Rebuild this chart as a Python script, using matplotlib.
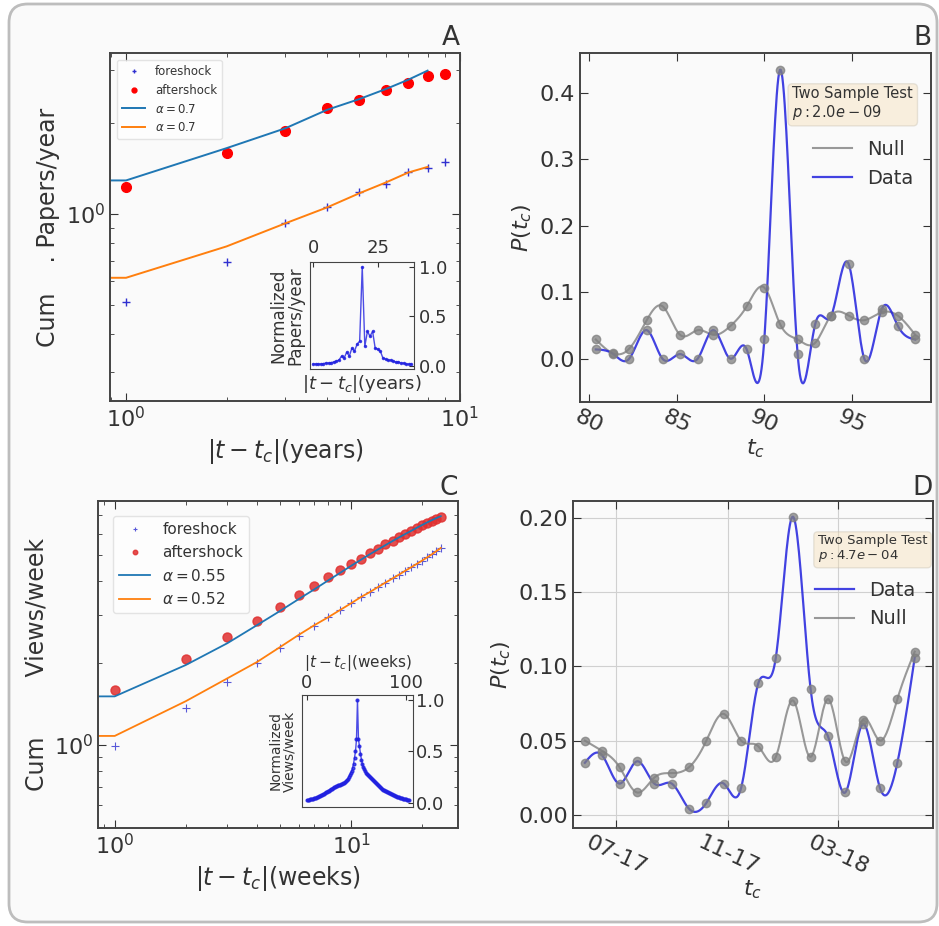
import numpy as np
import matplotlib
matplotlib.use('Agg')
import matplotlib.pyplot as plt
import matplotlib.dates as mdates
from matplotlib.patches import FancyBboxPatch

# ---- panel A: papers per year ----
years = [1, 2, 3, 4, 5, 6, 7, 8, 9]
papers_after = [1.23, 1.59, 1.88, 2.24, 2.38, 2.57, 2.72, 2.86, 2.91]
papers_fore = [0.51, 0.69, 0.93, 1.05, 1.18, 1.26, 1.38, 1.42, 1.49]
fit_years = [0.5, 1, 2, 3, 4, 5, 6, 7, 8]
papers_fit_after = [1.29, 1.29, 1.65, 1.92, 2.21, 2.40, 2.59, 2.78, 2.98]
papers_fit_fore = [0.614, 0.614, 0.78, 0.93, 1.05, 1.17, 1.27, 1.37, 1.43]
inset_years = list(range(39))
inset_papers = [0.02, 0.02, 0.02, 0.02, 0.025, 0.03, 0.03, 0.035, 0.04, 0.05,
                0.06, 0.10, 0.08, 0.14, 0.10, 0.18, 0.15, 0.22, 0.25, 1.0,
                0.20, 0.35, 0.30, 0.35, 0.18, 0.17, 0.15, 0.08, 0.07, 0.06,
                0.06, 0.05, 0.04, 0.04, 0.03, 0.03, 0.02, 0.02, 0.02]

# ---- panel B: change point distribution (years) ----
tc_years = [80.4, 81.4, 82.3, 83.3, 84.2, 85.2, 86.2, 87.1, 88.1, 89.0,
            90.0, 90.9, 91.9, 92.9, 93.8, 94.8, 95.7, 96.7, 97.6, 98.6]
p_null_b = [0.029, 0.008, 0.015, 0.058, 0.079, 0.036, 0.043, 0.036, 0.050, 0.079,
            0.107, 0.052, 0.029, 0.024, 0.065, 0.065, 0.058, 0.070, 0.065, 0.036]
p_data_b = [0.014, 0.007, 0.0, 0.043, 0.0, 0.007, 0.0, 0.043, 0.0, 0.014,
            0.029, 0.435, 0.007, 0.052, 0.064, 0.143, 0.0, 0.075, 0.050, 0.029]

# ---- panel C: views per week ----
weeks = list(range(1, 25))
views_after = [1.59, 2.07, 2.49, 2.86, 3.22, 3.56, 3.85, 4.15, 4.40, 4.65, 4.85, 5.08,
               5.28, 5.48, 5.65, 5.82, 5.97, 6.12, 6.28, 6.44, 6.55, 6.67, 6.78, 6.89]
views_fore = [0.99, 1.37, 1.71, 2.00, 2.27, 2.52, 2.74, 2.95, 3.13, 3.32, 3.50, 3.65,
              3.81, 3.96, 4.10, 4.24, 4.38, 4.51, 4.64, 4.77, 4.90, 5.03, 5.17, 5.31]
fit_weeks = [0.5] + weeks
views_fit_after = [1.51, 1.51, 1.97, 2.37, 2.76, 3.11, 3.44, 3.74, 4.03, 4.30, 4.56, 4.80, 5.03,
                   5.24, 5.44, 5.63, 5.81, 5.98, 6.14, 6.30, 6.45, 6.59, 6.72, 6.84, 6.95]
views_fit_fore = [1.08, 1.08, 1.45, 1.76, 2.02, 2.29, 2.54, 2.76, 2.95, 3.14, 3.32, 3.50, 3.65,
                  3.81, 3.96, 4.10, 4.24, 4.38, 4.51, 4.64, 4.77, 4.90, 5.03, 5.17, 5.31]
inset_weeks = list(range(104))
inset_views = [0.03, 0.03, 0.03, 0.035, 0.035, 0.04, 0.04, 0.045, 0.05, 0.05,
               0.055, 0.06, 0.065, 0.07, 0.075, 0.08, 0.085, 0.09, 0.10, 0.105,
               0.11, 0.115, 0.12, 0.13, 0.135, 0.14, 0.145, 0.15, 0.155, 0.16,
               0.165, 0.17, 0.17, 0.175, 0.18, 0.185, 0.19, 0.195, 0.20, 0.21,
               0.22, 0.23, 0.25, 0.27, 0.29, 0.31, 0.34, 0.38, 0.44, 0.50,
               0.62, 1.0, 0.62, 0.55, 0.48, 0.42, 0.38, 0.35, 0.33, 0.31,
               0.29, 0.28, 0.27, 0.26, 0.25, 0.24, 0.23, 0.22, 0.21, 0.20,
               0.19, 0.18, 0.17, 0.16, 0.15, 0.145, 0.14, 0.13, 0.125, 0.12,
               0.115, 0.11, 0.105, 0.10, 0.095, 0.09, 0.085, 0.08, 0.075, 0.07,
               0.065, 0.06, 0.058, 0.055, 0.05, 0.048, 0.045, 0.042, 0.04, 0.038,
               0.035, 0.03, 0.028, 0.025]

# ---- panel D: change point distribution (dates) ----
tc_dates = ['2017-05-28', '2017-06-16', '2017-07-05', '2017-07-24', '2017-08-12',
            '2017-08-31', '2017-09-19', '2017-10-08', '2017-10-27', '2017-11-15',
            '2017-12-04', '2017-12-23', '2018-01-11', '2018-01-30', '2018-02-18',
            '2018-03-09', '2018-03-28', '2018-04-16', '2018-05-05', '2018-05-24']
p_data_d = [0.035, 0.040, 0.021, 0.036, 0.021, 0.021, 0.004, 0.008, 0.021, 0.018,
            0.089, 0.106, 0.201, 0.085, 0.053, 0.015, 0.061, 0.018, 0.035, 0.106]
p_null_d = [0.050, 0.043, 0.032, 0.015, 0.025, 0.028, 0.032, 0.050, 0.068, 0.050,
            0.046, 0.039, 0.077, 0.039, 0.078, 0.036, 0.064, 0.050, 0.078, 0.110]

TXT = '#333333'
plt.rcParams['text.color'] = TXT
plt.rcParams['axes.labelcolor'] = TXT
plt.rcParams['xtick.color'] = TXT
plt.rcParams['ytick.color'] = TXT
plt.rcParams['axes.edgecolor'] = '#444444'
plt.rcParams['mathtext.fontset'] = 'dejavusans'


def smooth(x, y, n=400):
    # natural cubic spline through the points, only to draw the curve
    x = np.asarray(x, float)
    y = np.asarray(y, float)
    h = np.diff(x)
    m = len(x)
    A = np.zeros((m, m))
    r = np.zeros(m)
    A[0, 0] = A[-1, -1] = 1
    for i in range(1, m - 1):
        A[i, i - 1] = h[i - 1]
        A[i, i] = 2 * (h[i - 1] + h[i])
        A[i, i + 1] = h[i]
        r[i] = 3 * ((y[i + 1] - y[i]) / h[i] - (y[i] - y[i - 1]) / h[i - 1])
    c = np.linalg.solve(A, r)
    b = (y[1:] - y[:-1]) / h - h * (2 * c[:-1] + c[1:]) / 3
    d = (c[1:] - c[:-1]) / (3 * h)
    xs = np.linspace(x[0], x[-1], n)
    k = np.clip(np.searchsorted(x, xs) - 1, 0, m - 2)
    t = xs - x[k]
    return xs, y[k] + b[k] * t + c[k] * t ** 2 + d[k] * t ** 3


def style(ax, size=15):
    ax.set_facecolor('none')
    ax.tick_params(which='both', direction='in', top=True, right=True, labelsize=size)
    ax.tick_params(which='major', length=6)
    ax.tick_params(which='minor', length=3)
    for s in ax.spines.values():
        s.set_linewidth(1.4)


fig = plt.figure(figsize=(9.39, 9.26), dpi=100)
fig.patch.set_facecolor('white')
frame = FancyBboxPatch((9 / 939, 4 / 926), 928 / 939, 918 / 926,
                       boxstyle='round,pad=0,rounding_size=0.02',
                       transform=fig.transFigure, facecolor='#fafafa',
                       edgecolor='#bdbdbd', linewidth=2, zorder=-10)
fig.patches.append(frame)

# A
axA = fig.add_axes([0.1171, 0.5670, 0.3727, 0.3758])
style(axA, 16)
axA.loglog(years, papers_fore, '+', color='#3030d0', ms=6, mew=1, label='foreshock')
axA.loglog(years, papers_after, 'o', color='red', ms=7, label='aftershock')
axA.loglog(fit_years, papers_fit_after, '-', color='#1f77b4', lw=1.4, label=r'$\alpha = 0.7$')
axA.loglog(fit_years, papers_fit_fore, '-', color='#ff7f0e', lw=1.4, label=r'$\alpha = 0.7$')
axA.set_xlim(0.895, 10)
axA.set_ylim(0.24, 3.41)
axA.yaxis.set_minor_formatter(plt.NullFormatter())
axA.set_yticks([1])
axA.set_yticklabels([r'$10^0$'])
axA.set_xlabel(r'$|t - t_c|$(years)', fontsize=17)
axA.set_ylabel('Cum    . Papers/year', fontsize=17)
axA.legend(loc='upper left', fontsize=8.5, markerscale=0.5, framealpha=0.8,
           edgecolor='#dddddd', borderaxespad=0.6)
axA.set_title('A', loc='right', fontsize=19, pad=6)

insA = fig.add_axes([0.3301, 0.6015, 0.1108, 0.1156])
insA.set_facecolor('none')
insA.plot(inset_years, inset_papers, '.-', color='#2020e0', lw=1, ms=3, alpha=0.8)
insA.set_xlim(-1.2, 39)
insA.set_ylim(-0.03, 1.05)
insA.set_xticks([0, 25])
insA.set_yticks([0, 0.5, 1.0])
insA.tick_params(direction='in', labelsize=13, top=True, labeltop=True, bottom=False,
                 labelbottom=False, left=False, labelleft=False, right=True, labelright=True)
insA.set_xlabel(r'$|t - t_c|$(years)', fontsize=13, labelpad=3)
insA.set_ylabel('Normalized\nPapers/year', fontsize=12, linespacing=0.95)

# B
axB = fig.add_axes([0.6177, 0.5659, 0.3738, 0.3769])
style(axB, 16)
xs, ys = smooth(tc_years, p_null_b)
axB.plot(xs, ys, color='gray', lw=1.5, alpha=0.8, label='Null')
xs, ys = smooth(tc_years, p_data_b)
axB.plot(xs, ys, color='#2222dd', lw=1.6, alpha=0.85, label='Data')
axB.plot(tc_years, p_null_b, 'o', color='gray', ms=6, alpha=0.75)
axB.plot(tc_years, p_data_b, 'o', color='gray', ms=6, alpha=0.75)
axB.set_xlim(79.5, 99.5)
axB.set_ylim(-0.065, 0.46)
axB.set_xticks([80, 85, 90, 95])
axB.set_yticks([0.0, 0.1, 0.2, 0.3, 0.4])
plt.setp(axB.get_xticklabels(), rotation=-25, ha='center')
axB.set_xlabel(r'$t_c$', fontsize=16, labelpad=0)
axB.set_ylabel(r'$P(t_c)$', fontsize=16)
axB.legend(loc='upper right', bbox_to_anchor=(1.0, 0.80), fontsize=14, frameon=False)
axB.text(0.605, 0.905, 'Two Sample Test\n' + r'$p: 2.0e-09$', transform=axB.transAxes,
         fontsize=10.5, va='top', linespacing=1.1,
         bbox=dict(boxstyle='round', facecolor='wheat', alpha=0.4, edgecolor='#c8c0b0'))
axB.set_title('B', loc='right', fontsize=19, pad=6)

# C
axC = fig.add_axes([0.1044, 0.1058, 0.3834, 0.3531])
style(axC, 16)
axC.loglog(weeks, views_fore, '+', color='#3030d0', ms=6, mew=0.8, alpha=0.8, label='foreshock')
axC.loglog(weeks, views_after, 'o', color='#e03030', ms=6.5, alpha=0.85, label='aftershock')
axC.loglog(fit_weeks, views_fit_after, '-', color='#1f77b4', lw=1.3, label=r'$\alpha = 0.55$')
axC.loglog(fit_weeks, views_fit_fore, '-', color='#ff7f0e', lw=1.3, label=r'$\alpha = 0.52$')
axC.set_xlim(0.85, 28.4)
axC.set_ylim(0.495, 7.9)
axC.yaxis.set_minor_formatter(plt.NullFormatter())
axC.set_yticks([1])
axC.set_yticklabels([r'$10^0$'])
axC.set_xlabel(r'$|t - t_c|$(weeks)', fontsize=17)
axC.set_ylabel('Cum        Views/week', fontsize=17)
axC.legend(loc='upper left', fontsize=11, markerscale=0.5, framealpha=0.8,
           edgecolor='#dddddd', borderaxespad=1.0)
axC.set_title('C', loc='right', fontsize=19, pad=4)

insC = fig.add_axes([0.3216, 0.1285, 0.1182, 0.1210])
insC.set_facecolor('none')
insC.plot(inset_weeks, inset_views, '.-', color='#2020e0', lw=1, ms=4, alpha=0.8)
insC.set_xlim(-5, 107)
insC.set_ylim(-0.04, 1.05)
insC.set_xticks([0, 100])
insC.set_yticks([0, 0.5, 1.0])
insC.tick_params(direction='in', labelsize=13, top=True, labeltop=True, bottom=False,
                 labelbottom=False, left=False, labelleft=False, right=True, labelright=True,
                 pad=2)
insC.xaxis.set_label_position('top')
insC.set_xlabel(r'$|t - t_c|$(weeks)', fontsize=11, labelpad=5)
insC.set_ylabel('Normalized\nViews/week', fontsize=10, linespacing=0.95)

# D
axD = fig.add_axes([0.6102, 0.1058, 0.3834, 0.3531])
style(axD, 16)
dnum = mdates.date2num(np.array(tc_dates, dtype='datetime64[D]'))
xs, ys = smooth(dnum, p_data_d)
axD.plot(xs, ys, color='#2222dd', lw=1.6, alpha=0.85, label='Data')
xs, ys = smooth(dnum, p_null_d)
axD.plot(xs, ys, color='gray', lw=1.5, alpha=0.8, label='Null')
axD.plot(dnum, p_data_d, 'o', color='gray', ms=6, alpha=0.75)
axD.plot(dnum, p_null_d, 'o', color='gray', ms=6, alpha=0.75)
axD.set_xlim(mdates.date2num(np.datetime64('2017-05-15')), mdates.date2num(np.datetime64('2018-06-13')))
axD.set_ylim(-0.009, 0.2116)
axD.xaxis.set_major_locator(mdates.MonthLocator(bymonth=[3, 7, 11]))
axD.xaxis.set_major_formatter(mdates.DateFormatter('%m-%y'))
axD.set_yticks([0.0, 0.05, 0.10, 0.15, 0.20])
plt.setp(axD.get_xticklabels(), rotation=-25, ha='center')
axD.grid(True, color='#d0d0d0', lw=0.8)
axD.set_xlabel(r'$t_c$', fontsize=16, labelpad=0)
axD.set_ylabel(r'$P(t_c)$', fontsize=16)
axD.legend(loc='upper right', bbox_to_anchor=(1.0, 0.81), fontsize=14, frameon=False)
axD.text(0.68, 0.90, 'Two Sample Test\n' + r'$p: 4.7e-04$', transform=axD.transAxes,
         fontsize=9.5, va='top', linespacing=1.1,
         bbox=dict(boxstyle='round', facecolor='wheat', alpha=0.4, edgecolor='#c8c0b0'))
axD.set_title('D', loc='right', fontsize=19, pad=4)

fig.savefig('out.png', dpi=100, facecolor=fig.get_facecolor())
